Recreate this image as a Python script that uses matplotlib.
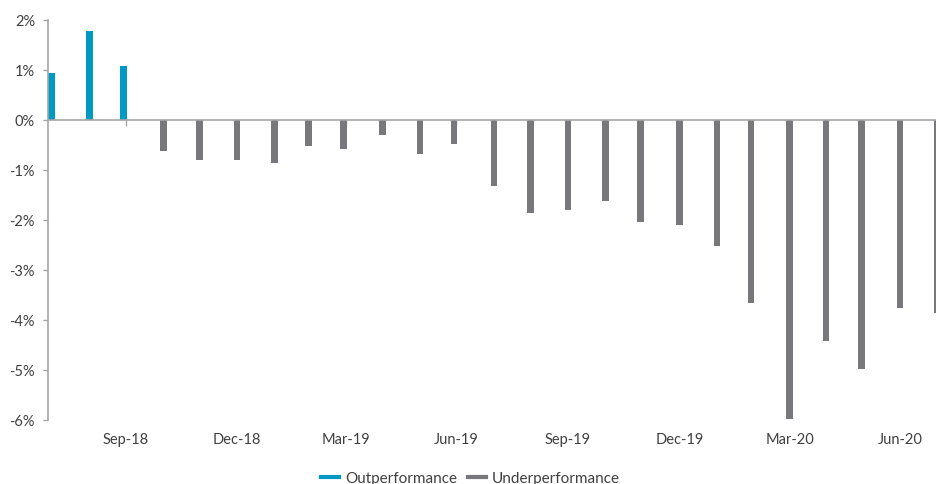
import matplotlib.pyplot as plt
import pandas as pd
from matplotlib.lines import Line2D
from matplotlib.ticker import FuncFormatter

# month-end business days, Jul-18 .. Jul-20
dates = pd.to_datetime([
    "2018-07-31", "2018-08-31", "2018-09-28", "2018-10-31", "2018-11-30",
    "2018-12-31", "2019-01-31", "2019-02-28", "2019-03-29", "2019-04-30",
    "2019-05-31", "2019-06-28", "2019-07-31", "2019-08-30", "2019-09-30",
    "2019-10-31", "2019-11-29", "2019-12-31", "2020-01-31", "2020-02-28",
    "2020-03-31", "2020-04-30", "2020-05-29", "2020-06-30", "2020-07-31",
])
outperformance = [0.93, 1.77, 1.07, 0, 0, 0, 0, 0, 0, 0, 0, 0, 0,
                  0, 0, 0, 0, 0, 0, 0, 0, 0, 0, 0, 0]
underperformance = [0, 0, 0, -0.63, -0.81, -0.81, -0.87, -0.53, -0.59, -0.31,
                    -0.69, -0.49, -1.33, -1.87, -1.81, -1.63, -2.05, -2.11,
                    -2.53, -3.66, -5.98, -4.42, -4.98, -3.76, -3.86]

tick_dates = pd.to_datetime(["2018-09-30", "2018-12-31", "2019-03-31", "2019-06-30",
                             "2019-09-30", "2019-12-31", "2020-03-31", "2020-06-30"])
tick_labels = ["Sep-18", "Dec-18", "Mar-19", "Jun-19", "Sep-19", "Dec-19", "Mar-20", "Jun-20"]

BLUE = "#0099c4"
GREY = "#78787c"
AXIS = "#a6a6a6"
TEXT = "#404040"

plt.rcParams['font.family'] = ['Lato', 'DejaVu Sans']

fig = plt.figure(figsize=(9.37, 4.85), dpi=100)
ax = fig.add_axes([0.0509, 0.1326, 0.9491, 0.8247])

ax.bar(dates, outperformance, width=5.5, color=BLUE, zorder=2)
ax.bar(dates, underperformance, width=5.5, color=GREY, zorder=2)

ax.set_ylim(-6, 2)
ax.set_yticks(range(-6, 3))
ax.yaxis.set_major_formatter(FuncFormatter(lambda v, p: f"{v:.0f}%"))
ax.set_xlim(pd.Timestamp("2018-07-27 16:00"), pd.Timestamp("2020-07-30 12:00"))

for s in ["top", "right"]:
    ax.spines[s].set_visible(False)
ax.spines["left"].set_color(AXIS)
ax.spines["left"].set_linewidth(1.2)
ax.spines["bottom"].set_position(("data", 0))
ax.spines["bottom"].set_color(AXIS)
ax.spines["bottom"].set_linewidth(1.2)
ax.spines["bottom"].set_zorder(3)

ax.set_xticks(tick_dates)
ax.tick_params(axis="x", labelbottom=False, length=4, width=1, color=AXIS, direction="out")
ax.tick_params(axis="y", length=3.6, width=1, color=AXIS, pad=5.5, labelsize=10.5, labelcolor=TEXT)

# date labels sit at the bottom of the plot, not on the zero line
ax2 = ax.secondary_xaxis("bottom")
ax2.set_xticks(tick_dates, tick_labels)
ax2.tick_params(length=0, pad=9, labelsize=10.5, labelcolor=TEXT)
ax2.spines["bottom"].set_visible(False)

handles = [Line2D([], [], color=BLUE, lw=3), Line2D([], [], color=GREY, lw=3)]
fig.legend(handles, ["Outperformance", "Underperformance"], loc="center",
           bbox_to_anchor=(470.5 / 937, 1 - 479 / 485), ncol=2, frameon=False,
           fontsize=11, handlelength=1.2, handletextpad=0.37, columnspacing=0.74,
           labelcolor=TEXT)

fig.savefig("out.png", dpi=100)
